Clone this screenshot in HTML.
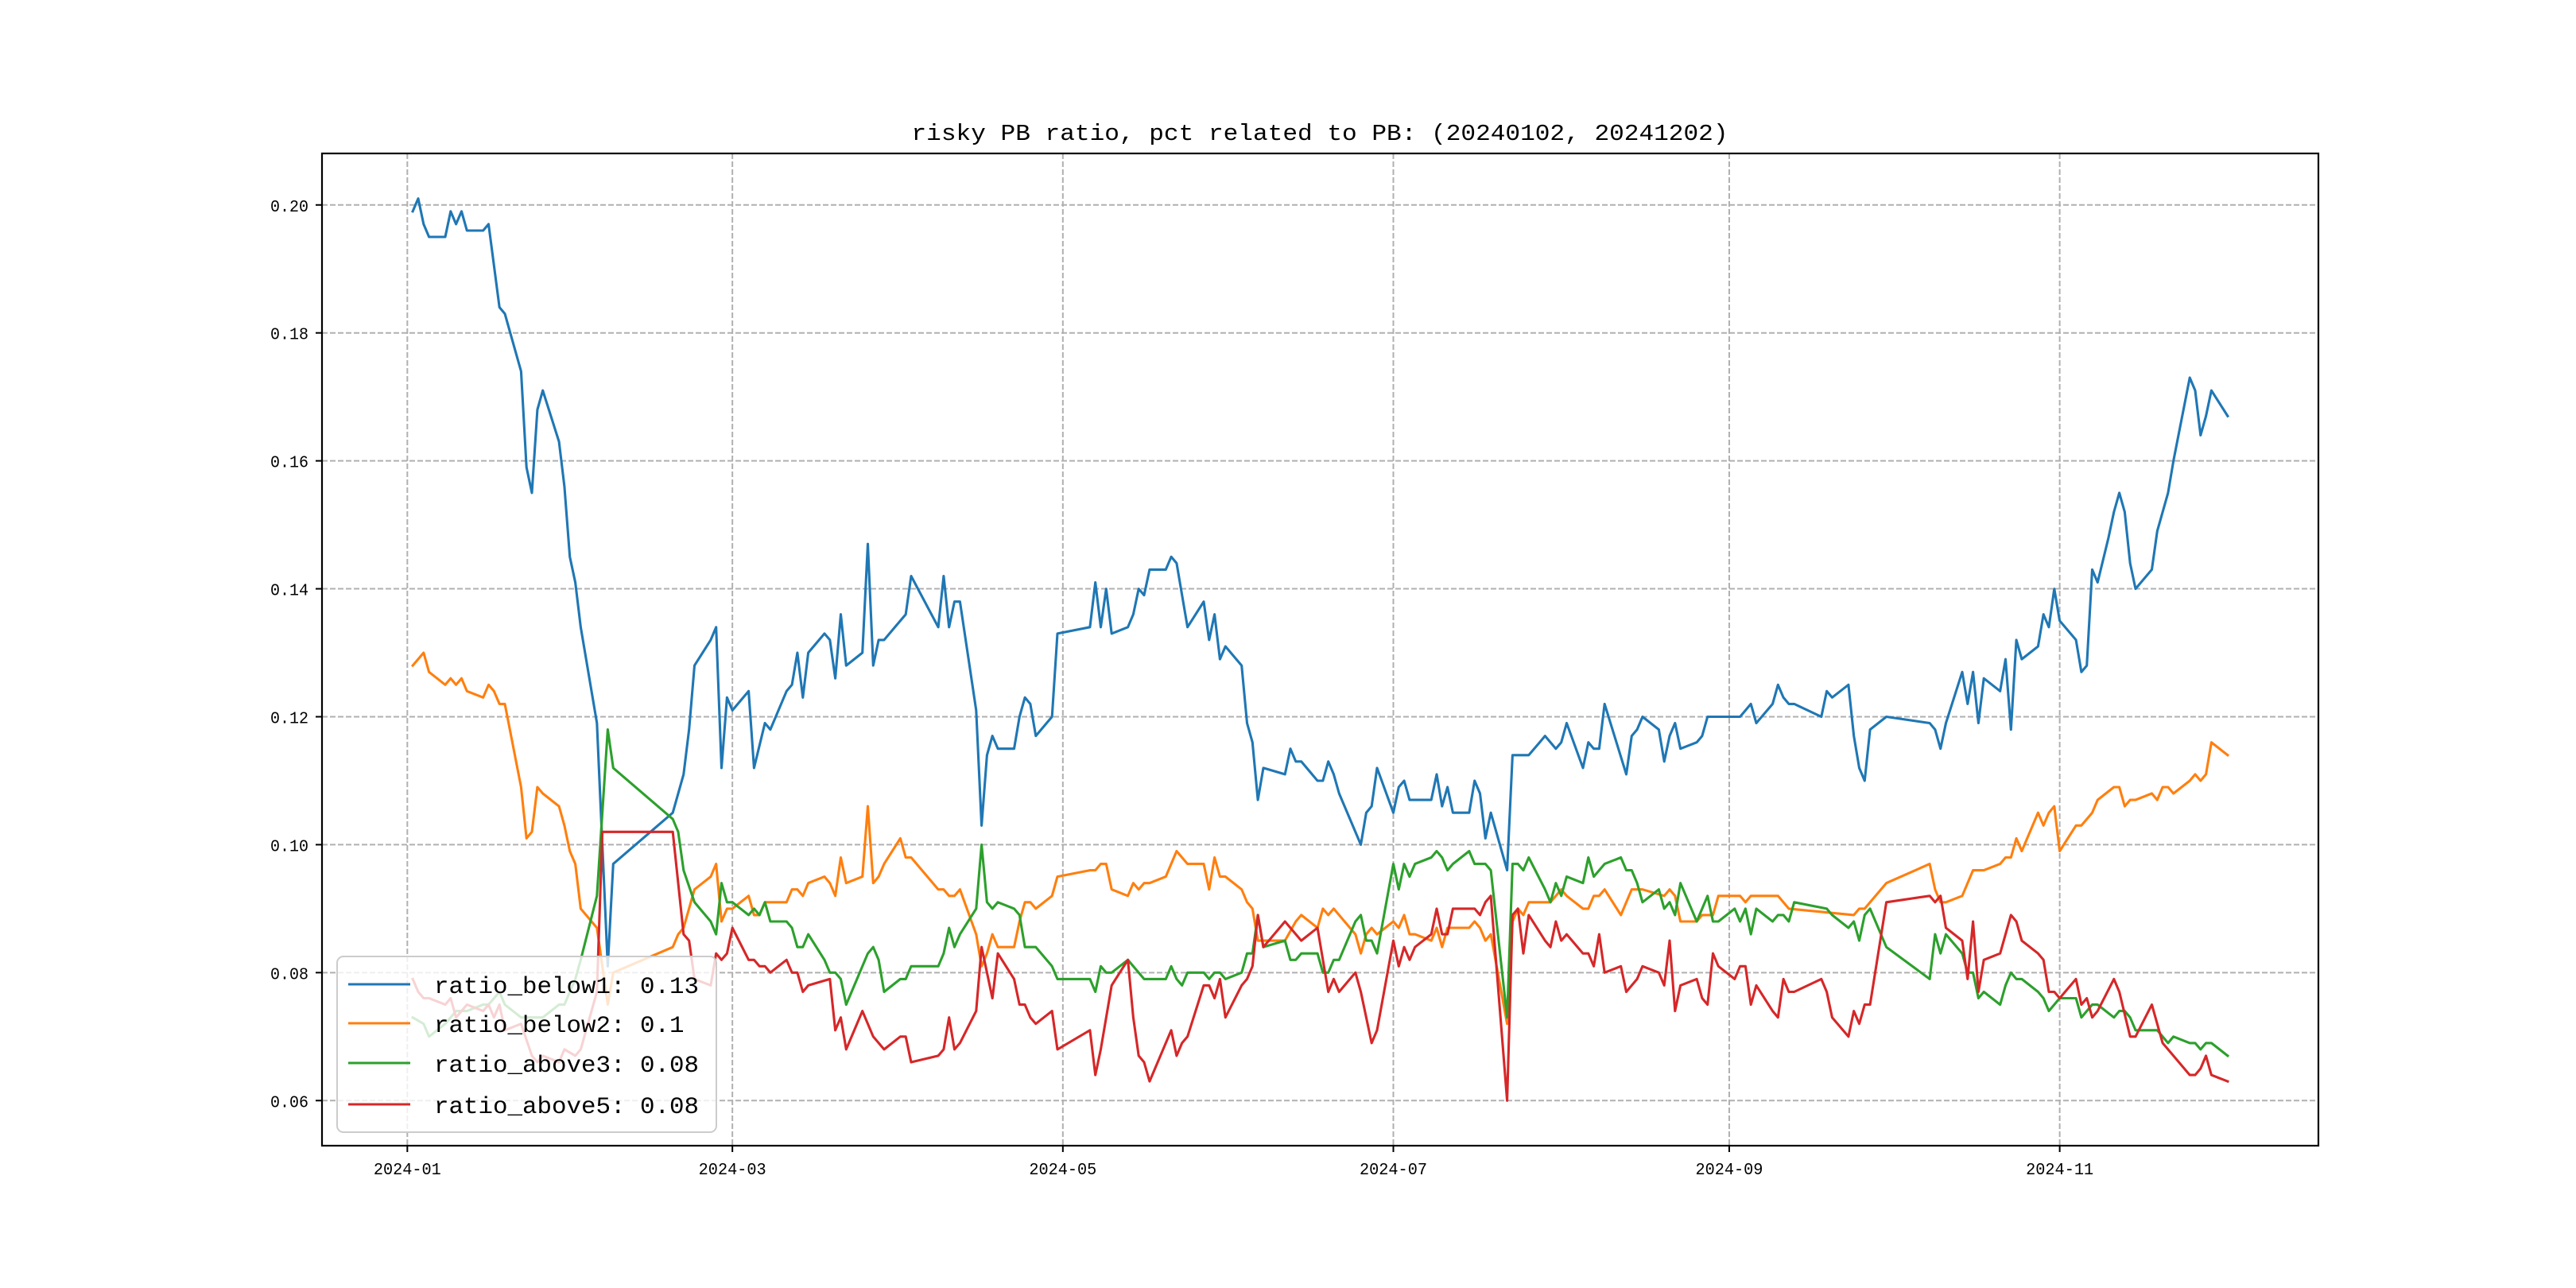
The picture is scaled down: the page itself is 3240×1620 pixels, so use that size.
<!DOCTYPE html>
<html>
<head>
<meta charset="utf-8">
<style>
  html, body { margin: 0; padding: 0; background: #fff; }
  body { width: 3240px; height: 1620px; overflow: hidden; }
  svg { display: block; }
</style>
</head>
<body>
<svg id="chart" width="3240" height="1620" viewBox="0 0 3240 1620" xmlns="http://www.w3.org/2000/svg">
  <rect x="0" y="0" width="3240" height="1620" fill="#ffffff"/>
  <g id="grid"></g>
  <g id="series"></g>
  <rect x="405" y="193" width="2511" height="1248" fill="none" stroke="#000" stroke-width="2.2"/>
  <g id="ticks"></g>
  <text x="1660" y="176" text-anchor="middle" font-family="'Liberation Mono', 'Noto Sans CJK SC', monospace" font-size="29" textLength="1027" lengthAdjust="spacingAndGlyphs" fill="#000">risky PB ratio, pct related to PB: (20240102, 20241202)</text>
  <g id="legend"></g>
</svg>
<script>
// ---- chart data ----
const xTickDays = [0, 60, 121, 182, 244, 305];
const xTickLabels = ["2024-01", "2024-03", "2024-05", "2024-07", "2024-09", "2024-11"];
const yTickValues = [0.06, 0.08, 0.10, 0.12, 0.14, 0.16, 0.18, 0.20];
const yTickLabels = ["0.06", "0.08", "0.10", "0.12", "0.14", "0.16", "0.18", "0.20"];
const seriesNames = ["ratio_below1", "ratio_below2", "ratio_above3", "ratio_above5"];
const legendValues = ["0.13", "0.1", "0.08", "0.08"];

const below1Days = [1,2,3,4,7,8,9,10,11,14,15,17,18,21,22,23,24,25,28,29,30,31,32,35,37,38,49,51,52,53,56,57,58,59,60,63,64,66,67,70,71,72,73,74,77,78,79,80,81,84,85,
86,87,88,90,92,93,98,99,100,101,102,105,106,107,108,109,112,113,114,115,116,118,119,120,126,127,128,129,130,133,134,135,136,137,140,141,142,144,147,148,149,150,151,154,155,156,157,158,162,163,164,165,168,169,170,171,172,176,177,
178,179,182,183,184,185,189,190,191,192,193,196,197,198,199,200,203,204,207,209,210,212,213,214,217,218,219,220,221,225,226,227,228,231,232,233,234,235,238,239,240,246,248,249,252,253,254,255,256,261,262,263,266,267,268,
269,270,273,281,282,283,284,287,288,289,290,291,294,295,296,297,298,301,302,303,304,305,308,309,310,311,312,314,315,316,317,318,319,322,323,325,326,329,330,331,332,333,336];
const below1Vals = [.199,.201,.197,.195,.195,.199,.197,.199,.196,.196,.197,.184,.183,.174,.159,.155,.168,.171,.163,.156,.145,.141,.134,.119,.081,.097,.105,.111,.118,.128,.132,.134,.112,.123,.121,.124,.112,.119,.118,.124,.125,.130,.123,.130,.133,.132,.126,.136,.128,.130,.147,
.128,.132,.132,.134,.136,.142,.134,.142,.134,.138,.138,.121,.103,.114,.117,.115,.115,.120,.123,.122,.117,.119,.120,.133,.134,.141,.134,.140,.133,.134,.136,.140,.139,.143,.143,.145,.144,.134,.138,.132,.136,.129,.131,.128,.119,.116,.107,.112,.111,.115,.113,.113,.110,.110,.113,.111,.108,.100,.105,
.106,.112,.105,.109,.110,.107,.107,.111,.106,.109,.105,.105,.110,.108,.101,.105,.096,.114,.114,.116,.117,.115,.116,.119,.112,.116,.115,.115,.122,.111,.117,.118,.120,.118,.113,.117,.119,.115,.116,.117,.120,.120,.122,.119,.122,.125,.123,.122,.122,.120,.124,.123,.125,.117,.112,
.110,.118,.120,.119,.118,.115,.119,.127,.122,.127,.119,.126,.124,.129,.118,.132,.129,.131,.136,.134,.140,.135,.132,.127,.128,.143,.141,.148,.152,.155,.152,.144,.140,.143,.149,.155,.160,.173,.171,.164,.167,.171,.167];

const below2Days = [1,3,4,7,8,9,10,11,14,15,16,17,18,21,22,23,24,25,28,29,30,31,32,35,36,37,38,49,50,51,53,56,57,58,59,60,63,64,65,66,70,71,72,73,74,77,78,79,80,81,84,85,
86,87,88,91,92,93,98,99,100,101,102,105,106,107,108,109,112,113,114,115,116,119,120,126,127,128,129,130,133,134,135,136,137,140,142,144,147,148,149,150,151,154,155,156,157,158,162,164,165,168,169,170,171,175,176,177,
178,179,182,183,184,185,186,189,190,191,192,196,197,198,199,200,203,204,205,206,207,211,213,214,217,218,219,220,221,224,226,228,232,233,234,235,238,239,241,242,246,247,248,253,255,267,268,
269,273,281,282,283,284,287,289,291,294,295,296,297,298,301,302,303,304,305,308,309,311,312,315,316,317,318,319,322,323,324,325,326,329,330,331,332,333,336];
const below2Vals = [.128,.130,.127,.125,.126,.125,.126,.124,.123,.125,.124,.122,.122,.109,.101,.102,.109,.108,.106,.103,.099,.097,.090,.087,.081,.075,.080,.084,.086,.087,.093,.095,.097,.088,.090,.090,.092,.089,.089,.091,.091,.093,.093,.092,.094,.095,.094,.092,.098,.094,.095,.106,
.094,.095,.097,.101,.098,.098,.093,.093,.092,.092,.093,.086,.081,.083,.086,.084,.084,.088,.091,.091,.090,.092,.095,.096,.096,.097,.097,.093,.092,.094,.093,.094,.094,.095,.099,.097,.097,.093,.098,.095,.095,.093,.091,.090,.085,.085,.085,.088,.089,.087,.090,.089,.090,.086,.083,.086,
.087,.086,.088,.087,.089,.086,.086,.085,.087,.084,.087,.087,.088,.087,.085,.086,.072,.088,.090,.089,.091,.091,.093,.092,.090,.090,.092,.092,.093,.089,.093,.093,.092,.093,.092,.088,.088,.089,.089,.092,.092,.091,.092,.092,.090,.089,.090,
.090,.094,.097,.093,.091,.091,.092,.096,.096,.097,.098,.098,.101,.099,.105,.103,.105,.106,.099,.103,.103,.105,.107,.109,.109,.106,.107,.107,.108,.107,.109,.109,.108,.110,.111,.110,.111,.116,.114];

const above3Days = [1,3,4,7,9,11,14,15,17,18,21,23,25,28,29,31,32,35,37,38,49,50,51,53,56,57,58,59,60,63,64,65,66,67,70,71,72,73,74,77,78,79,80,81,85,
86,87,88,91,92,93,98,99,100,101,102,105,106,107,108,109,112,113,114,116,119,120,126,127,128,129,130,133,136,140,141,142,143,144,147,148,149,150,151,154,155,156,157,158,162,163,164,165,168,169,170,171,172,175,176,177,
178,179,182,183,184,185,186,189,190,191,192,193,196,197,199,200,203,204,205,206,207,210,211,212,213,214,217,218,219,221,224,225,226,227,228,231,232,233,234,235,238,240,241,242,245,246,247,248,249,252,253,254,255,256,262,263,266,267,268,
269,270,273,281,282,283,284,287,288,289,290,291,294,295,296,297,298,301,302,303,305,308,309,311,312,315,316,317,318,319,323,325,326,329,330,331,332,333,336];
const above3Vals = [.073,.072,.070,.072,.074,.074,.075,.075,.077,.075,.073,.073,.073,.075,.075,.079,.082,.092,.118,.112,.104,.102,.096,.091,.088,.086,.094,.091,.091,.089,.090,.089,.091,.088,.088,.087,.084,.084,.086,.082,.080,.080,.079,.075,.083,
.084,.082,.077,.079,.079,.081,.081,.083,.087,.084,.086,.090,.100,.091,.090,.091,.090,.089,.084,.084,.081,.079,.079,.077,.081,.080,.080,.082,.079,.079,.081,.079,.078,.080,.080,.079,.080,.080,.079,.080,.083,.083,.089,.084,.085,.082,.082,.083,.083,.080,.080,.082,.082,.088,.089,.085,
.085,.083,.097,.093,.097,.095,.097,.098,.099,.098,.096,.097,.099,.097,.097,.096,.073,.097,.097,.096,.098,.093,.091,.094,.092,.095,.094,.098,.095,.097,.098,.096,.096,.094,.091,.093,.090,.091,.089,.094,.088,.092,.088,.088,.090,.088,.090,.086,.090,.088,.089,.089,.088,.091,.090,.089,.087,.088,.085,
.089,.090,.084,.079,.086,.083,.086,.083,.080,.080,.076,.077,.075,.078,.080,.079,.079,.077,.076,.074,.076,.076,.073,.075,.075,.073,.074,.074,.073,.071,.071,.069,.070,.069,.069,.068,.069,.069,.067];

const above5Days = [1,2,3,4,7,8,9,11,14,15,16,17,18,21,23,24,25,28,29,31,32,35,36,49,50,51,52,53,56,57,58,59,60,63,64,65,66,67,70,71,72,73,74,78,79,80,81,84,
86,88,91,92,93,98,99,100,101,102,105,106,108,109,112,113,114,115,116,119,120,126,127,128,130,133,134,135,136,137,141,142,143,144,147,148,149,150,151,154,155,156,157,158,162,165,168,169,170,171,172,175,176,
177,178,179,182,183,184,185,186,189,190,191,192,193,197,198,199,200,203,204,205,206,207,210,211,212,213,214,217,218,219,220,221,224,225,227,228,231,232,233,234,235,238,239,240,241,242,245,246,247,248,249,252,253,254,255,256,261,262,263,266,267,268,
269,270,273,281,282,283,284,287,288,289,290,291,294,296,297,298,301,302,303,304,305,308,309,310,311,312,315,316,318,319,322,324,329,330,331,332,333,336];
const above5Vals = [.079,.077,.076,.076,.075,.076,.073,.075,.074,.075,.073,.075,.071,.072,.067,.066,.067,.066,.068,.067,.068,.077,.102,.102,.094,.086,.085,.079,.078,.083,.082,.083,.087,.082,.082,.081,.081,.080,.082,.080,.080,.077,.078,.079,.071,.073,.068,.074,
.070,.068,.070,.070,.066,.067,.068,.073,.068,.069,.074,.084,.076,.083,.079,.075,.075,.073,.072,.074,.068,.071,.064,.068,.078,.082,.073,.067,.066,.063,.071,.067,.069,.070,.078,.078,.076,.079,.073,.078,.079,.081,.089,.084,.088,.085,.087,.082,.077,.079,.077,.080,.077,
.073,.069,.071,.085,.081,.084,.082,.084,.086,.090,.086,.086,.090,.090,.089,.091,.092,.060,.089,.090,.083,.089,.085,.084,.088,.085,.086,.083,.083,.081,.086,.080,.081,.077,.079,.081,.080,.078,.085,.074,.078,.079,.076,.075,.083,.081,.079,.081,.081,.075,.078,.074,.073,.079,.077,.077,.079,.077,.073,.070,.074,.072,
.075,.075,.091,.092,.091,.092,.087,.085,.079,.088,.077,.082,.083,.089,.088,.085,.083,.082,.077,.077,.076,.079,.075,.076,.073,.074,.079,.077,.070,.070,.075,.069,.064,.064,.065,.067,.064,.063];

// ---- axes ----
const NS = "http://www.w3.org/2000/svg";
const plot = { left: 405, right: 2916, top: 193, bottom: 1441 };
const xMin = -15.75, xMax = 352.75;
const yMin = 0.05295, yMax = 0.20805;
function xScale(d) { return plot.left + (d - xMin) / (xMax - xMin) * (plot.right - plot.left); }
function yScale(v) { return plot.bottom - (v - yMin) / (yMax - yMin) * (plot.bottom - plot.top); }
function mk(tag, attrs, parent) {
  const el = document.createElementNS(NS, tag);
  for (const k in attrs) el.setAttribute(k, attrs[k]);
  parent.appendChild(el);
  return el;
}

const grid = document.getElementById("grid");
const ticks = document.getElementById("ticks");
const seriesG = document.getElementById("series");
const legendG = document.getElementById("legend");
const FONT = "'Liberation Mono', 'Noto Sans CJK SC', monospace";

xTickDays.forEach((d, i) => {
  const x = xScale(d);
  const gl = mk("line", { x1: x, x2: x, y1: plot.top, y2: plot.bottom, stroke: "#b0b0b0", "stroke-width": 2, "stroke-dasharray": "7,3" }, grid);
  
  
  const tk = mk("line", { x1: x, x2: x, y1: plot.bottom, y2: plot.bottom + 8, stroke: "#000", "stroke-width": 2 }, ticks);
  
  
  const t = mk("text", { x: x, y: plot.bottom + 36, "text-anchor": "middle", "font-family": FONT, "font-size": 21, textLength: 85, lengthAdjust: "spacingAndGlyphs", fill: "#000" }, ticks);
  t.textContent = xTickLabels[i];
  
  
});

yTickValues.forEach((v, i) => {
  const y = yScale(v);
  const gl = mk("line", { x1: plot.left, x2: plot.right, y1: y, y2: y, stroke: "#b0b0b0", "stroke-width": 2, "stroke-dasharray": "7,3" }, grid);
  
  
  const tk = mk("line", { x1: plot.left - 8, x2: plot.left, y1: y, y2: y, stroke: "#000", "stroke-width": 2 }, ticks);
  
  
  const t = mk("text", { x: plot.left - 17, y: y + 8, "text-anchor": "end", "font-family": FONT, "font-size": 21, textLength: 48, lengthAdjust: "spacingAndGlyphs", fill: "#000" }, ticks);
  t.textContent = yTickLabels[i];
  
  
});

const allDays = [below1Days, below2Days, above3Days, above5Days];
const allVals = [below1Vals, below2Vals, above3Vals, above5Vals];
const colors = ["#1f77b4", "#ff7f0e", "#2ca02c", "#d62728"];
const lineNames = ["line-ratio-below1", "line-ratio-below2", "line-ratio-above3", "line-ratio-above5"];

allDays.forEach((days, s) => {
  const vals = allVals[s];
  const n = Math.min(days.length, vals.length);
  let d = "";
  for (let i = 0; i < n; i++) {
    d += (i ? "L" : "M") + xScale(days[i]).toFixed(1) + "," + yScale(vals[i]).toFixed(1);
  }
  const p = mk("path", { d: d, fill: "none", stroke: colors[s], "stroke-width": 3.1, "stroke-linejoin": "round", "stroke-linecap": "square" }, seriesG);
  
  
});

// ---- legend ----
const lgBox = mk("rect", { x: 424, y: 1203, width: 477, height: 221, rx: 8, ry: 8, fill: "#ffffff", "fill-opacity": 0.8, stroke: "#cccccc", "stroke-width": 2 }, legendG);


const rowY = [1238, 1287, 1337, 1389];
seriesNames.forEach((name, i) => {
  const y = rowY[i];
  const g = mk("g", {}, legendG);
  
  
  const ln = mk("line", { x1: 438, x2: 516, y1: y, y2: y, stroke: colors[i], "stroke-width": 3.1 }, g);
  
  
  const label = name + ": " + legendValues[i];
  const t = mk("text", { x: 546, y: y + 11, "font-family": FONT, "font-size": 30, textLength: label.length * 18.5, lengthAdjust: "spacingAndGlyphs", fill: "#000" }, g);
  t.textContent = label;
  
  
});
</script>
</body>
</html>
